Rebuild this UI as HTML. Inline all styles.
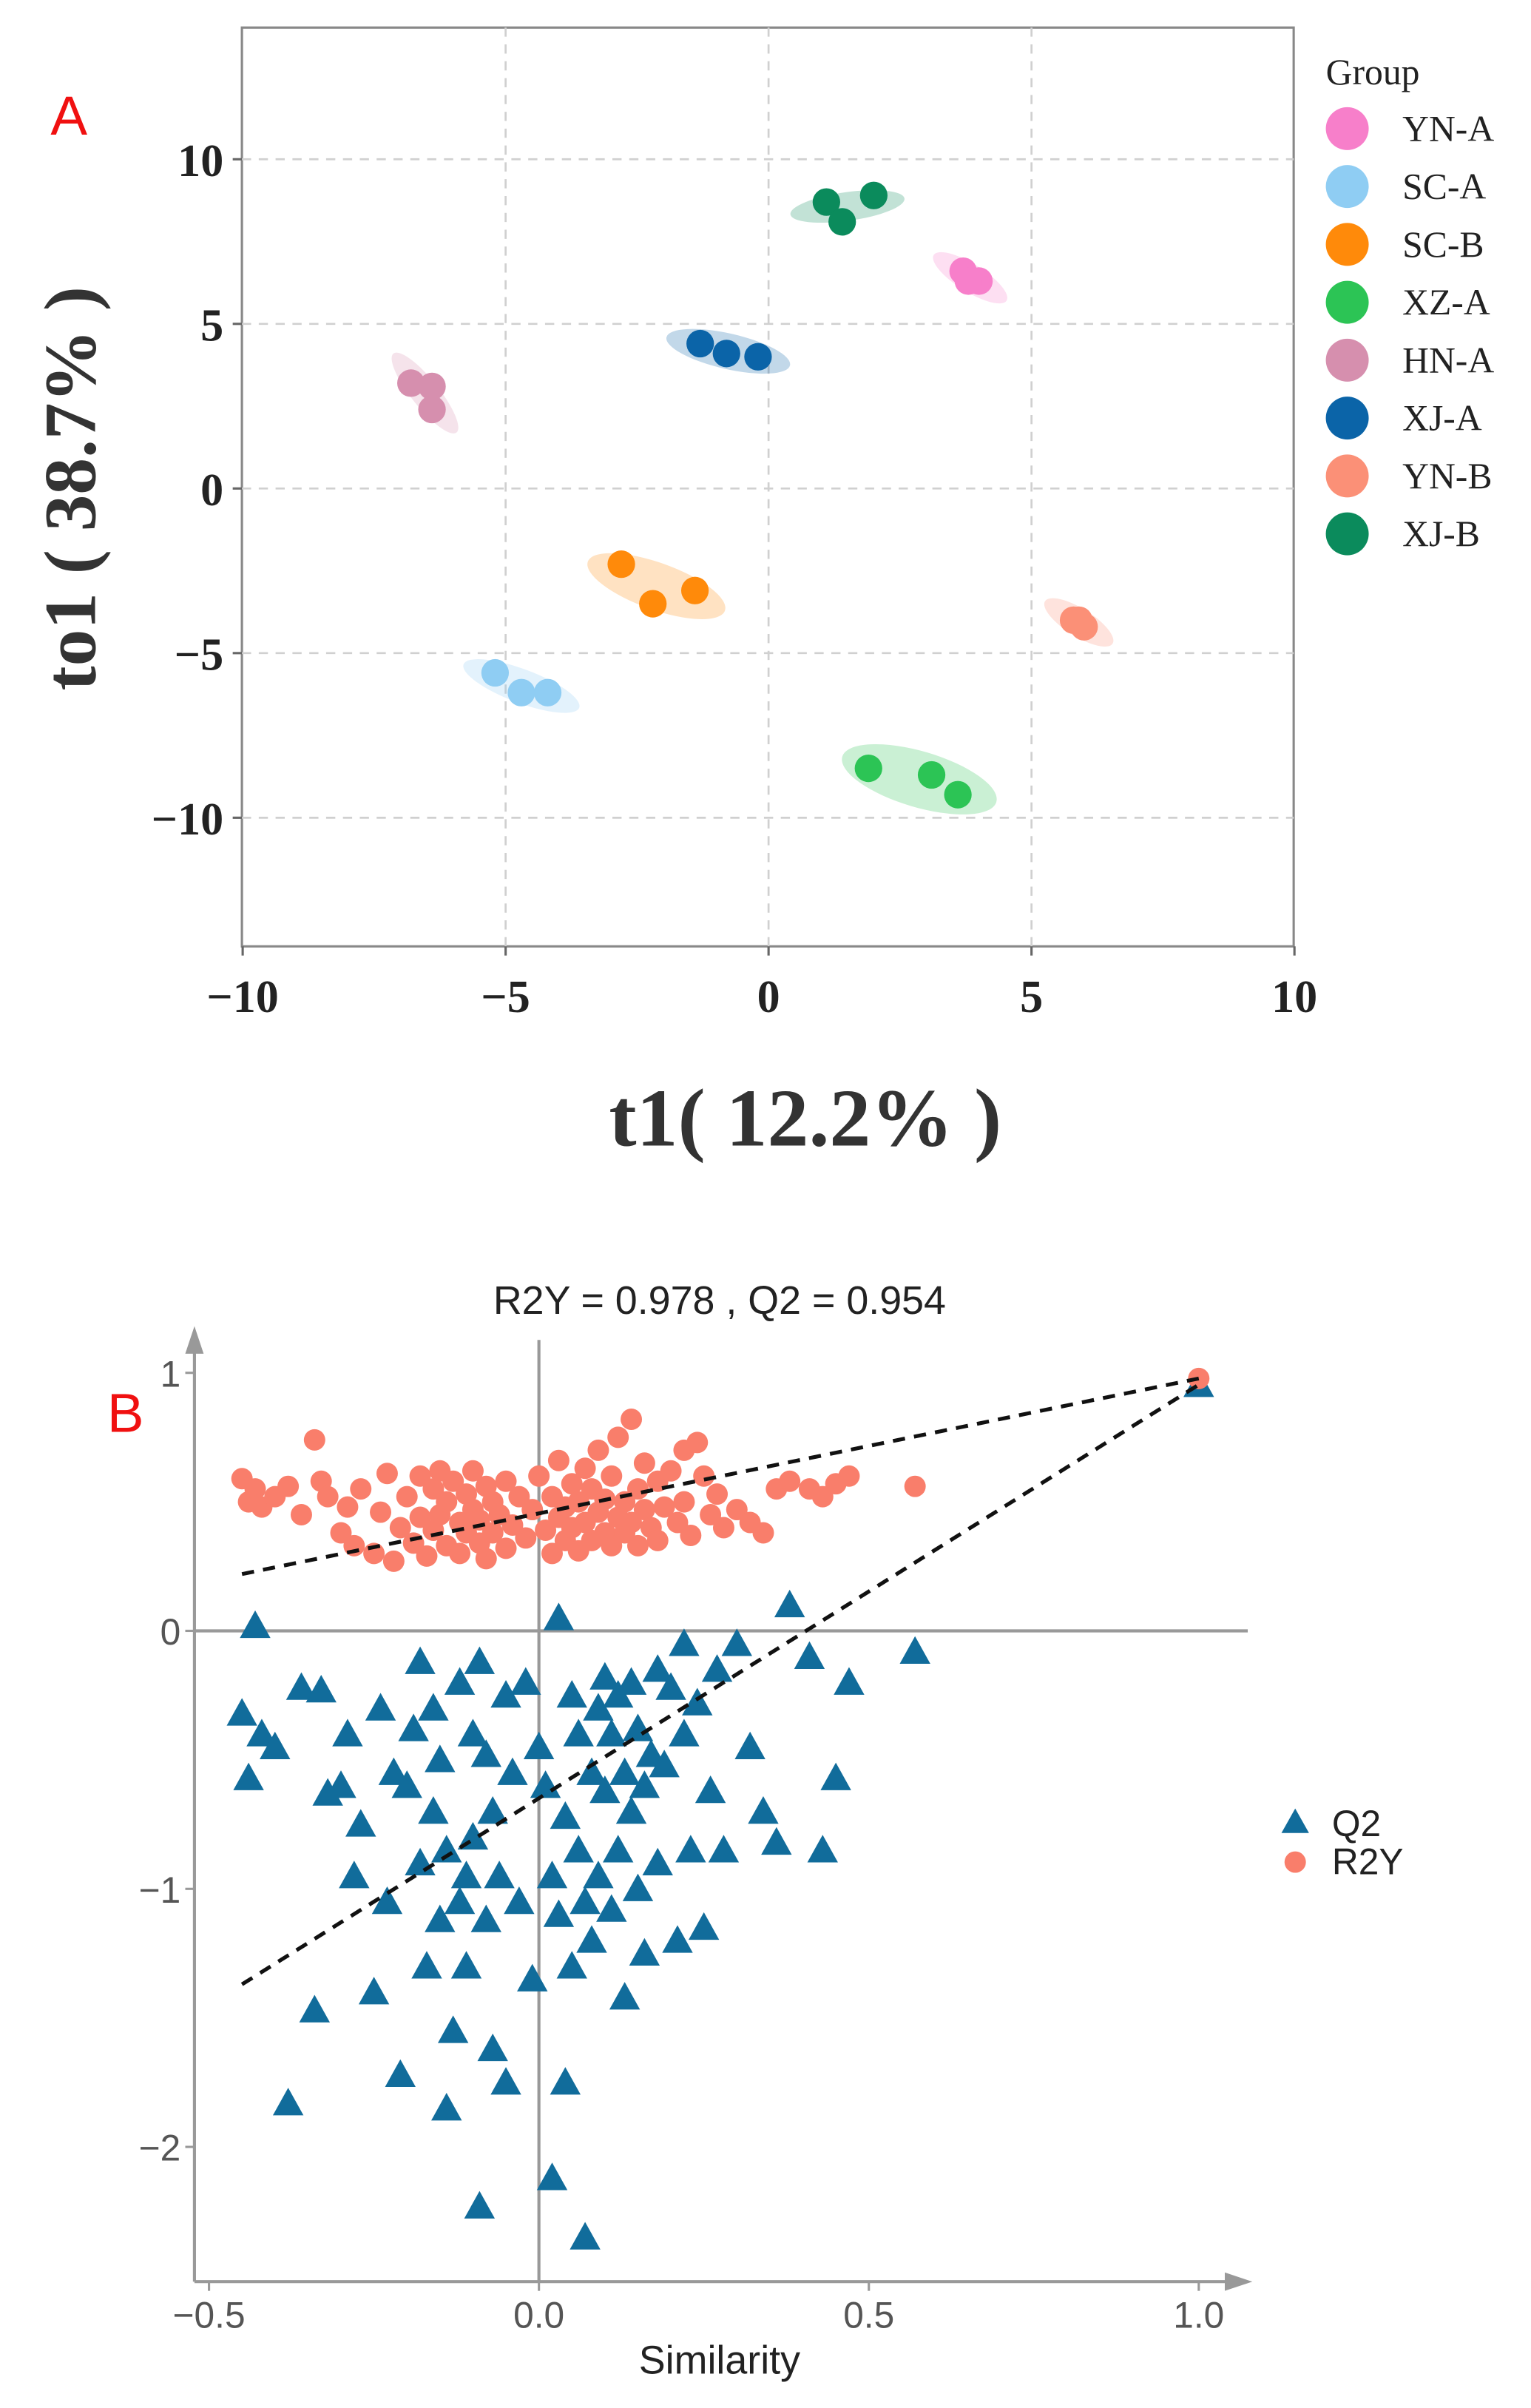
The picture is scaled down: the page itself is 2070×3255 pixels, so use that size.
<!DOCTYPE html>
<html><head><meta charset="utf-8"><style>html,body{margin:0;padding:0;background:#fff}svg{display:block}</style></head>
<body>
<svg id="chart" xmlns="http://www.w3.org/2000/svg" width="2070" height="3255" viewBox="0 0 1000 1572.5">
<g id="pa"></g>
<g id="pb"></g>
</svg>
<script>
// ---------- Panel A data ----------
const groups = ["YN-A","SC-A","SC-B","XZ-A","HN-A","XJ-A","YN-B","XJ-B"];
const groupColors = ["#f77fca","#8fcdf3","#ff8a0a","#2cc455","#d68fae","#0b64a8","#fb9077","#0b8b5c"];
const pcaX = [[3.7,4.0,3.8],[-5.2,-4.7,-4.2],[-2.8,-2.2,-1.4],[1.9,3.1,3.6],[-6.8,-6.4,-6.4],[-1.3,-0.8,-0.2],[5.8,6.0,5.9],[1.1,2.0,1.4]];
const pcaY = [[6.6,6.3,6.3],[-5.6,-6.2,-6.2],[-2.3,-3.5,-3.1],[-8.5,-8.7,-9.3],[3.2,3.1,2.4],[4.4,4.1,4.0],[-4.0,-4.2,-4.0],[8.7,8.9,8.1]];
const aTicks = [-10,-5,0,5,10];
// ---------- Panel B data ----------
const simX = [-0.45,-0.44,-0.43,-0.42,-0.40,-0.38,-0.36,-0.34,-0.33,-0.32,-0.30,-0.29,-0.28,-0.27,-0.25,-0.24,-0.23,-0.22,-0.21,-0.20,-0.19,-0.18,-0.18,-0.17,-0.16,-0.16,-0.15,-0.15,-0.14,-0.14,-0.13,-0.12,-0.12,-0.11,-0.11,-0.10,-0.10,-0.09,-0.09,-0.08,-0.08,-0.07,-0.07,-0.06,-0.05,-0.05,-0.04,-0.03,-0.02,-0.01,0.00,0.01,0.02,0.02,0.03,0.03,0.04,0.04,0.05,0.05,0.06,0.06,0.07,0.07,0.08,0.08,0.09,0.09,0.10,0.10,0.11,0.11,0.12,0.12,0.13,0.13,0.14,0.14,0.15,0.15,0.16,0.16,0.17,0.18,0.18,0.19,0.20,0.21,0.22,0.22,0.23,0.24,0.25,0.26,0.27,0.28,0.30,0.32,0.34,0.36,0.38,0.41,0.43,0.45,0.47,0.57,1.00];
const r2y = [0.59,0.50,0.55,0.48,0.52,0.56,0.45,0.74,0.58,0.52,0.38,0.48,0.33,0.55,0.30,0.46,0.61,0.27,0.40,0.52,0.34,0.60,0.44,0.29,0.55,0.39,0.62,0.45,0.33,0.50,0.58,0.42,0.30,0.53,0.38,0.47,0.62,0.34,0.43,0.56,0.28,0.50,0.38,0.45,0.58,0.32,0.41,0.52,0.36,0.47,0.60,0.39,0.30,0.52,0.44,0.66,0.35,0.48,0.57,0.40,0.31,0.50,0.63,0.42,0.35,0.55,0.46,0.70,0.38,0.51,0.33,0.60,0.44,0.75,0.38,0.50,0.82,0.42,0.55,0.33,0.47,0.65,0.40,0.58,0.35,0.48,0.62,0.42,0.70,0.50,0.37,0.73,0.60,0.45,0.53,0.40,0.47,0.42,0.38,0.55,0.58,0.55,0.52,0.57,0.60,0.56,0.978];
const q2 = [-0.32,-0.57,0.02,-0.40,-0.45,-1.83,-0.22,-1.47,-0.23,-0.63,-0.60,-0.40,-0.95,-0.75,-1.40,-0.30,-1.05,-0.55,-1.72,-0.60,-0.38,-0.90,-0.12,-1.30,-0.30,-0.70,-1.12,-0.50,-1.85,-0.85,-1.55,-0.20,-1.05,-0.95,-1.30,-0.40,-0.80,-2.23,-0.12,-1.12,-0.48,-1.62,-0.70,-0.95,-0.25,-1.75,-0.55,-1.05,-0.20,-1.35,-0.45,-0.60,-2.12,-0.95,-1.10,0.05,-1.75,-0.72,-0.25,-1.30,-0.85,-0.40,-1.05,-2.35,-0.55,-1.20,-0.30,-0.95,-0.18,-0.62,-1.08,-0.40,-0.85,-0.25,-0.55,-1.42,-0.20,-0.70,-0.38,-1.00,-0.60,-1.25,-0.48,-0.15,-0.90,-0.52,-0.22,-1.20,-0.40,-0.05,-0.85,-0.28,-1.15,-0.62,-0.15,-0.85,-0.05,-0.45,-0.70,-0.82,0.10,-0.10,-0.85,-0.57,-0.20,-0.08,0.954];
const r2yLine = [0.22,0.978];
const q2Line = [-1.37,0.954];
const lineX = [-0.45,1.0];
const bxTicks = [-0.5,0.0,0.5,1.0];
const byTicks = [1,0,-1,-2];

const NS="http://www.w3.org/2000/svg";
function mk(parent,tag,attrs,text){const e=document.createElementNS(NS,tag);for(const k in attrs)e.setAttribute(k,attrs[k]);if(text!==undefined)e.textContent=text;parent.appendChild(e);return e;}
const serif='"Liberation Serif", serif', sans='"Liberation Sans", sans-serif';

// ---------- Panel A ----------
const pa=document.getElementById('pa');
const ax=v=>502+v*34.35, ay=v=>319-v*21.5;
let e;
e=mk(pa,'rect',{x:158,y:18,width:687,height:600,fill:'#fff',stroke:'#888','stroke-width':1.5});


aTicks.forEach(t=>{
  if(t>-10&&t<10){e=mk(pa,'line',{x1:ax(t),x2:ax(t),y1:18,y2:618,stroke:'#d0d0d0','stroke-dasharray':'6,5','stroke-width':1.3});
  }
  e=mk(pa,'line',{x1:158,x2:845,y1:ay(t),y2:ay(t),stroke:'#d0d0d0','stroke-dasharray':'6,5','stroke-width':1.3});
  
  e=mk(pa,'line',{x1:152,x2:158,y1:ay(t),y2:ay(t),stroke:'#666','stroke-width':1.5});
  
  e=mk(pa,'line',{x1:ax(t),x2:ax(t),y1:618,y2:624,stroke:'#666','stroke-width':1.5});
  
  e=mk(pa,'text',{x:146,y:ay(t)+11,'text-anchor':'end','font-family':serif,'font-weight':'bold','font-size':30,fill:'#222'},t<0?'\u2212'+(-t):String(t));
  
  e=mk(pa,'text',{x:ax(t),y:661,'text-anchor':'middle','font-family':serif,'font-weight':'bold','font-size':30,fill:'#222'},t<0?'\u2212'+(-t):String(t));
  
});
groups.forEach((g,i)=>{
  const xs=pcaX[i],ys=pcaY[i];
  const px=xs.map(ax),py=ys.map(ay);
  const cx=px.reduce((a,b)=>a+b)/3, cy=py.reduce((a,b)=>a+b)/3;
  let far=0,ang=0;
  for(let a=0;a<3;a++)for(let b=a+1;b<3;b++){const d=Math.hypot(px[a]-px[b],py[a]-py[b]);if(d>far){far=d;ang=Math.atan2(py[b]-py[a],px[b]-px[a])*180/Math.PI;}}
  e=mk(pa,'ellipse',{cx:cx,cy:cy,rx:far*0.5+22,ry:Math.max(9,far*0.3),fill:groupColors[i],'fill-opacity':0.25,transform:`rotate(${ang} ${cx} ${cy})`});
  
  for(let k=0;k<3;k++){
    e=mk(pa,'circle',{cx:px[k],cy:py[k],r:9,fill:groupColors[i]});
    
  }
  e=mk(pa,'circle',{cx:880,cy:84+i*37.8,r:14,fill:groupColors[i]});
  
  e=mk(pa,'text',{x:916,y:92+i*37.8,'font-family':serif,'font-size':24,fill:'#222'},g);
  
});
e=mk(pa,'text',{x:866,y:55,'font-family':serif,'font-size':24,fill:'#222'},'Group');

e=mk(pa,'text',{x:33,y:88,'font-family':sans,'font-size':36,fill:'#f01010'},'A');

e=mk(pa,'text',{x:0,y:0,transform:'translate(62 319) rotate(-90)','text-anchor':'middle','font-family':serif,'font-weight':'bold','font-size':48,fill:'#333'},'to1 ( 38.7% )');

e=mk(pa,'text',{x:526,y:748,'text-anchor':'middle','font-family':serif,'font-weight':'bold','font-size':54,fill:'#333'},'t1( 12.2% )');


// ---------- Panel B ----------
const pb=document.getElementById('pb');
const bx=v=>352+v*431, by=v=>1065-v*168.5;
e=mk(pb,'line',{x1:127,x2:127,y1:875,y2:1490,stroke:'#999','stroke-width':2});

e=mk(pb,'path',{d:'M121 884 L127 866 L133 884 Z',fill:'#999'});

e=mk(pb,'line',{x1:127,x2:808,y1:1490,y2:1490,stroke:'#999','stroke-width':2});

e=mk(pb,'path',{d:'M800 1484 L818 1490 L800 1496 Z',fill:'#999'});

e=mk(pb,'line',{x1:bx(0),x2:bx(0),y1:875,y2:1490,stroke:'#999','stroke-width':2});

e=mk(pb,'line',{x1:127,x2:815,y1:by(0),y2:by(0),stroke:'#999','stroke-width':2});

bxTicks.forEach(t=>{
  e=mk(pb,'line',{x1:bx(t),x2:bx(t),y1:1490,y2:1496,stroke:'#999','stroke-width':1.5});
  
  e=mk(pb,'text',{x:bx(t),y:1520,'text-anchor':'middle','font-family':sans,'font-size':24,fill:'#555'},t.toFixed(1).replace('-','\u2212'));
  
});
byTicks.forEach(t=>{
  e=mk(pb,'line',{x1:121,x2:127,y1:by(t),y2:by(t),stroke:'#999','stroke-width':1.5});
  
  e=mk(pb,'text',{x:118,y:by(t)+9,'text-anchor':'end','font-family':sans,'font-size':24,fill:'#555'},t<0?'\u2212'+(-t):String(t));
  
});
simX.forEach((s,i)=>{
  const cx=bx(s),cy=by(q2[i]);
  e=mk(pb,'path',{d:`M${cx} ${cy-10} L${cx+10} ${cy+8} L${cx-10} ${cy+8} Z`,fill:'#116c9b'});
  
});
simX.forEach((s,i)=>{
  e=mk(pb,'circle',{cx:bx(s),cy:by(r2y[i]),r:7,fill:'#f97e6b'});
  
});
e=mk(pb,'line',{x1:bx(lineX[0]),y1:by(r2yLine[0]),x2:bx(lineX[1]),y2:by(r2yLine[1]),stroke:'#111','stroke-width':2.5,'stroke-dasharray':'8,6'});

e=mk(pb,'line',{x1:bx(lineX[0]),y1:by(q2Line[0]),x2:bx(lineX[1]),y2:by(q2Line[1]),stroke:'#111','stroke-width':2.5,'stroke-dasharray':'8,6'});

e=mk(pb,'text',{x:470,y:858,'text-anchor':'middle','font-family':sans,'font-size':26,fill:'#222'},'R2Y = 0.978 ,  Q2 = 0.954');

e=mk(pb,'text',{x:70,y:935,'font-family':sans,'font-size':36,fill:'#f01010'},'B');

e=mk(pb,'text',{x:470,y:1550,'text-anchor':'middle','font-family':sans,'font-size':26,fill:'#222'},'Similarity');

e=mk(pb,'path',{d:'M846 1181 L855 1197 L837 1197 Z',fill:'#116c9b'});

e=mk(pb,'text',{x:870,y:1199,'font-family':sans,'font-size':24,fill:'#222'},'Q2');

e=mk(pb,'circle',{cx:846,cy:1216,r:7,fill:'#f97e6b'});

e=mk(pb,'text',{x:870,y:1224,'font-family':sans,'font-size':24,fill:'#222'},'R2Y');

</script>
</body></html>
